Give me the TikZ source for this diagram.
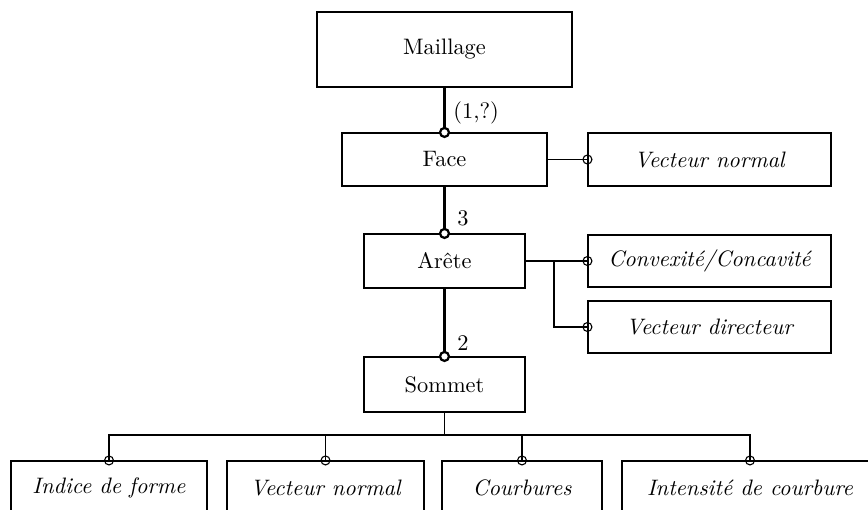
\documentclass[tikz,border=0pt]{standalone}
\usetikzlibrary{calc}
\tikzset{
  box/.style 2 args={draw, line width=0.5pt, rectangle, inner sep=0pt, minimum width=#1*0.447pt, minimum height=#2*0.447pt, font=\normalsize},
  attr/.style={font=\itshape},
  link/.style={line width=0.5pt},
  strong/.style={line width=1pt},
  thinring/.style={draw, line width=0.5pt},
  thickring/.style={draw, line width=1pt, fill=white},
  card/.style={anchor=west, inner sep=0pt}
}
\begin{document}
\begin{tikzpicture}[x=0.447pt, y=-0.447pt]
\useasboundingbox (0,0) rectangle (868,510);
\clip (0,0) rectangle (868,510);
\node[box={255}{75}] (M) at (444.5,49.5) {Maillage};
\node[box={205}{53}] (F) at (444.5,159.5) {Face};
\node[box={243}{53}, attr] (VN1) at (709.5,159.5) {Vecteur normal};
\node[box={161}{54}] (A) at (444.5,261) {Arête};
\node[box={243}{52}, attr] (CC) at (709.5,261) {Convexité/Concavité};
\node[box={243}{52}, attr] (VD) at (709.5,327) {Vecteur directeur};
\node[box={161}{55}] (S) at (444.5,384.5) {Sommet};
\node[box={196}{53}, attr] (I) at (109,487.5) {Indice de forme};
\node[box={197}{53}, attr] (VN2) at (325.5,487.5) {Vecteur normal};
\node[box={160}{53}, attr] (C) at (522,487.5) {Courbures};
\node[box={256}{53}, attr] (IC) at (750,487.5) {Intensité de courbure};

% strong links
\draw[strong] (M.south) -- (F.north);
\draw[strong] (F.south) -- (A.north);
\draw[strong] (A.south) -- (S.north);
\draw[thickring] (F.north) circle[radius=2pt];
\draw[thickring] (A.north) circle[radius=2pt];
\draw[thickring] (S.north) circle[radius=2pt];
\node[card] (l1) at (453,113) {(1,?)};
\node[card] (l2) at (457,218) {3};
\node[card] (l3) at (457,343) {2};

% attribute links
\draw[link] (F.east) -- (VN1.west);
\draw[link] (A.east) -- (CC.west);
\coordinate (br) at (554,261);
\draw[link] (br) |- (VD.west);
\coordinate (bus) at (444.5,435);
\draw[link] (S.south) -- (bus);
\draw[link] (I.north) |- (IC.north |- bus) -- (IC.north);
\draw[link] (VN2.north) -- (VN2.north |- bus);
\draw[link] (C.north) -- (C.north |- bus);
\foreach \n in {VN1,CC,VD} \draw[thinring] (\n.west) circle[radius=2pt];
\foreach \n in {I,VN2,C,IC} \draw[thinring] (\n.north) circle[radius=2pt];
\end{tikzpicture}
\end{document}
